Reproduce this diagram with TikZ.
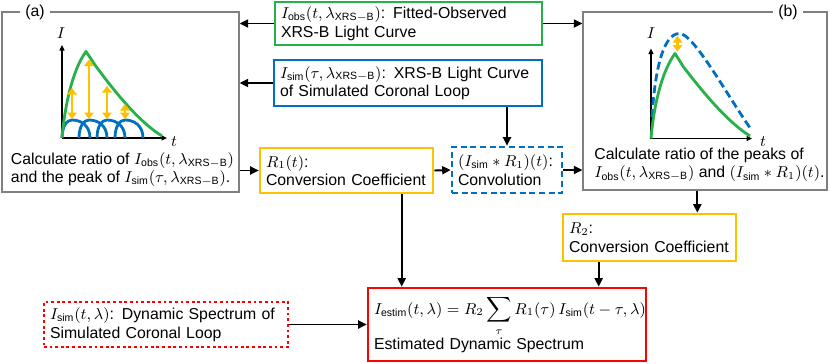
\documentclass[tikz,border=0pt]{standalone}
\usepackage{fontspec}
\setmainfont{Liberation Sans}
\usetikzlibrary{arrows.meta}

\definecolor{obsgreen}{RGB}{40,176,75}
\definecolor{simblue}{RGB}{0,112,192}
\definecolor{coefyellow}{RGB}{255,192,0}
\definecolor{estred}{RGB}{255,0,0}
\definecolor{panelgray}{RGB}{128,128,128}

\begin{document}
\begin{tikzpicture}[
    box/.style={
        draw,
        line width=1.5pt,
        inner xsep=0.12cm,
        inner ysep=0pt,
        align=left,
        font=\fontsize{9}{10.5}\selectfont
    },
    panel/.style={draw=panelgray, line width=0.7pt},
    txt/.style={align=left, font=\fontsize{9}{10.5}\selectfont},
    arrow/.style={->, line width=1.1pt, >={Triangle[length=1.7mm,width=1.6mm]}},
    axis/.style={->, line width=0.6pt, >={Triangle[length=1.1mm,width=1mm]}},
    peak/.style={<->, draw=coefyellow, line width=1.4pt, >={Triangle[length=1.3mm,width=1.9mm]}},
    curve/.style={line width=1.6pt, line join=round}
]
    \useasboundingbox (0,0) rectangle (16.6,7.26);

    % panels (a) and (b)
    \node[panel, minimum width=4.74cm, minimum height=3.6cm] (panela) at (2.41,5.22) {};
    \node[panel, minimum width=4.88cm, minimum height=3.56cm] (panelb) at (14.10,5.24) {};
    \node[txt, fill=white, inner xsep=3pt] (taga) at (0.7,7.02) {(a)};
    \node[txt, fill=white, inner xsep=3pt] (tagb) at (15.76,7.02) {(b)};

    \node[txt] (notea) at (2.45,3.87) {Calculate ratio of $I_{\mathrm{obs}}(t,\lambda_{\mathrm{XRS-B}})$\\and the peak of $I_{\mathrm{sim}}(\tau,\lambda_{\mathrm{XRS-B}})$.};
    \node[txt] (noteb) at (14.19,3.96) {Calculate ratio of the peaks of\\$I_{\mathrm{obs}}(t,\lambda_{\mathrm{XRS-B}})$ and $(I_{\mathrm{sim}}*R_1)(t)$.};

    % plot (a)
    \begin{scope}[shift={(1.24,4.50)}]
        \draw[axis] (0,0) -- (0,1.86);
        \draw[axis] (0,0) -- (2.1,0);
        \node[txt] (ia) at (-0.02,2.1) {$I$};
        \node[txt] (ta) at (2.24,-0.08) {$t$};
        \foreach \p in {0.2,0.54,0.9,1.26}
            \draw[curve, simblue] (\p-0.2,0) .. controls (\p-0.2,0.24) and (\p-0.1,0.36) .. (\p,0.36)
                .. controls (\p+0.17,0.36) and (\p+0.36,0.26) .. (\p+0.36,0);
        \draw[curve, obsgreen] (0,0) .. controls (0.05,0.6) and (0.2,1.35) .. (0.48,1.73) -- (0.66,1.46)
            .. controls (1.0,1.0) and (1.5,0.35) .. (2.0,0.04);
        \foreach \x/\y in {0.2/1.0, 0.54/1.57, 0.9/1.04, 1.26/0.68}
            \draw[peak] (\x,0.38) -- (\x,\y);
    \end{scope}

    % plot (b)
    \begin{scope}[shift={(13.02,4.49)}]
        \draw[axis] (0,0) -- (0,1.8);
        \draw[axis] (0,0) -- (2.02,0);
        \node[txt] (ib) at (0,2.1) {$I$};
        \node[txt] (tb) at (2.24,-0.06) {$t$};
        \draw[curve, simblue, dash pattern=on 4.5pt off 2.3pt] (0.02,0.43) .. controls (0.08,1.4) and (0.25,2.1) .. (0.57,2.1)
            .. controls (0.85,2.1) and (1.5,0.9) .. (2.01,0.17);
        \draw[curve, obsgreen] (0,0) .. controls (0.05,0.6) and (0.2,1.32) .. (0.48,1.70) -- (0.65,1.43)
            .. controls (1.0,0.98) and (1.5,0.35) .. (1.98,0.05);
        \draw[peak] (0.53,1.74) -- (0.53,2.05);
    \end{scope}

    % inputs and results
    \node[box, draw=obsgreen, text width=5.10cm, minimum height=0.86cm] (obs) at (8.17,6.79)
        {$I_{\mathrm{obs}}(t,\lambda_{\mathrm{XRS-B}})$: Fitted-Observed\\XRS-B Light Curve};
    \node[box, draw=simblue, text width=5.12cm, minimum height=0.92cm] (simlc) at (8.16,5.60)
        {$I_{\mathrm{sim}}(\tau,\lambda_{\mathrm{XRS-B}})$: XRS-B Light Curve\\of Simulated Coronal Loop};
    \node[box, draw=coefyellow, text width=3.22cm, minimum height=0.9cm] (rone) at (6.93,3.85)
        {$R_1(t)$:\\Conversion Coefficient};
    \node[box, draw=simblue, dash pattern=on 3.5pt off 2pt, text width=1.96cm, minimum height=0.92cm] (conv) at (10.14,3.86)
        {$(I_{\mathrm{sim}}*R_1)(t)$:\\Convolution};
    \node[box, draw=coefyellow, text width=3.22cm, minimum height=0.94cm] (rtwo) at (12.99,2.51)
        {$R_2$:\\Conversion Coefficient};
    \node[box, draw=estred, text width=5.32cm, minimum height=1.46cm] (estim) at (10.14,0.77)
        {\mbox{$\displaystyle I_{\mathrm{estim}}(t,\lambda)=R_2\sum_{\tau}R_1(\tau)\,I_{\mathrm{sim}}(t-\tau,\lambda)$}\\Estimated Dynamic Spectrum};
    \node[box, draw=estred, dash pattern=on 1.6pt off 1.6pt, text width=4.64cm, minimum height=0.9cm] (dynsim) at (3.32,0.77)
        {$I_{\mathrm{sim}}(t,\lambda)$: Dynamic Spectrum of\\Simulated Coronal Loop};

    % connectors
    \draw[arrow] (obs.west) -- (obs.west -| panela.east);
    \draw[arrow] (obs.east) -- (obs.east -| panelb.west);
    \draw[arrow] (simlc.west) -- (simlc.west -| panela.east);
    \draw[arrow] (conv.north |- simlc.south) -- (conv.north);
    \draw[arrow] (panela.east |- rone.west) -- (rone.west);
    \draw[arrow] (rone.east) -- (conv.west);
    \draw[arrow] (conv.east) -- (conv.east -| panelb.west);
    \draw[arrow] ([xshift=7mm]estim.north west |- rone.south) -- ([xshift=7mm]estim.north west);
    \draw[arrow] ([xshift=-8mm]rtwo.north east |- panelb.south) -- ([xshift=-8mm]rtwo.north east);
    \draw[arrow] ([xshift=7.4mm]rtwo.south west) -- ([xshift=7.4mm]rtwo.south west |- estim.north);
    \draw[arrow] (dynsim.east) -- (estim.west);
\end{tikzpicture}
\end{document}
